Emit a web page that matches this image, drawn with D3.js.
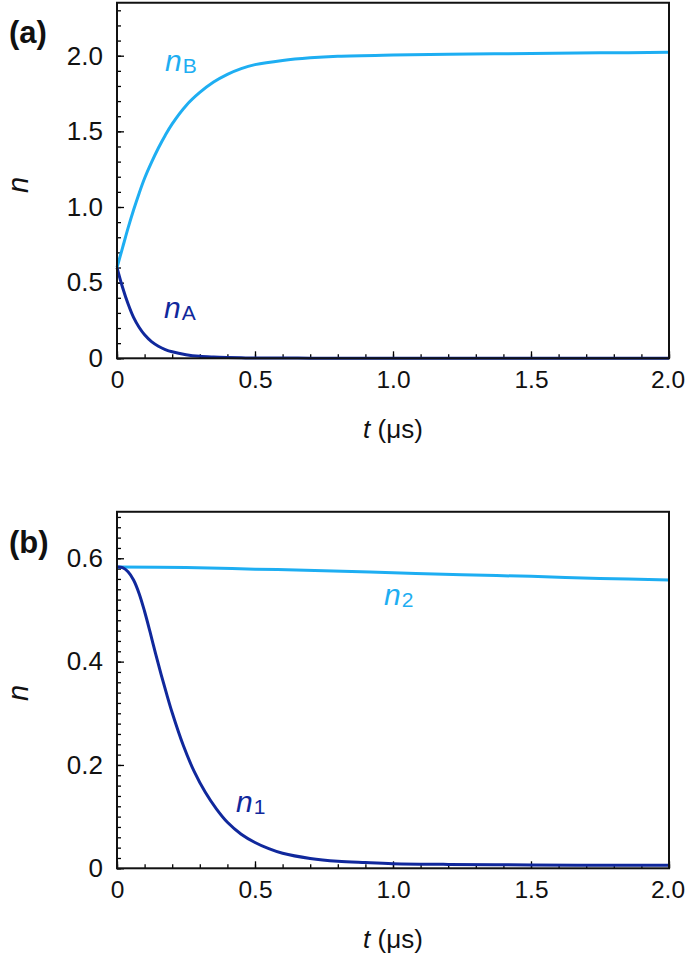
<!DOCTYPE html>
<html>
<head>
<meta charset="utf-8">
<script src="https://cdn.jsdelivr.net/npm/d3@7"></script>
<style>
  body { margin: 0; background: #fff; }
  svg { display: block; font-family: "Liberation Sans", Arial, sans-serif; }
</style>
</head>
<body>
<svg id="chart" width="685" height="955"></svg>
<script>
// panel (a)
const tA = [0, 0.02, 0.04, 0.06, 0.08, 0.1, 0.125, 0.15, 0.175, 0.2, 0.25, 0.3, 0.35, 0.4, 0.45, 0.5, 0.6, 0.7, 0.8, 1.0, 1.2, 1.5, 1.75, 2.0]
const nAvals = [0.60, 0.47, 0.36, 0.27, 0.205, 0.155, 0.11, 0.08, 0.058, 0.043, 0.024, 0.013, 0.008, 0.005, 0.003, 0.002, 0.0015, 0.001, 0.0008, 0.0005, 0.0003, 0.0002, 0.0001, 0]
const nBvals = [0.60, 0.73, 0.86, 0.98, 1.09, 1.19, 1.295, 1.39, 1.475, 1.55, 1.67, 1.757, 1.826, 1.877, 1.915, 1.941, 1.969, 1.986, 1.996, 2.004, 2.009, 2.015, 2.019, 2.022]

// panel (b)
const tB = [0, 0.02, 0.04, 0.06, 0.08, 0.1, 0.12, 0.14, 0.16, 0.18, 0.2, 0.24, 0.28, 0.32, 0.36, 0.4, 0.45, 0.5, 0.55, 0.6, 0.7, 0.8, 0.9, 1.0, 1.2, 1.5, 1.75, 2.0]
const n1vals = [0.583, 0.582, 0.574, 0.558, 0.532, 0.497, 0.457, 0.415, 0.375, 0.337, 0.301, 0.238, 0.187, 0.147, 0.115, 0.089, 0.066, 0.050, 0.038, 0.029, 0.019, 0.0135, 0.011, 0.009, 0.0075, 0.0065, 0.006, 0.006]
const t2 = [0, 0.25, 0.5, 0.75, 1.0, 1.25, 1.5, 1.75, 2.0]
const n2vals = [0.583, 0.582, 0.579, 0.576, 0.572, 0.568, 0.565, 0.561, 0.558]

const xTicks = [0, 0.5, 1.0, 1.5, 2.0]
const yTicksA = [0, 0.5, 1.0, 1.5, 2.0]
const yTicksB = [0, 0.2, 0.4, 0.6]

const light = "#1eaef2"
const dark = "#10289c"

const svg = d3.select("#chart")

const fmt = d => d === 0 ? "0" : d3.format(".1f")(d)

function panel(cfg) {
	const x = d3.scaleLinear().domain([0, 2]).range([117, 669])
	const y = d3.scaleLinear().domain([0, cfg.ymax]).range([cfg.bottom, cfg.bottom - cfg.ymax * cfg.unit])
	const g = svg.append("g")

	// minor ticks
	const xMinor = d3.range(0, 2.0001, 0.1)
	g.append("g")
		.attr("transform", `translate(0,${cfg.bottom})`)
		.call(d3.axisBottom(x).tickValues(xMinor).tickSize(-4).tickFormat(""))
		.call(s => s.select(".domain").remove())
		.selectAll("line").attr("stroke", "#000").attr("stroke-width", 1.3)

	const yMinor = d3.range(0, cfg.ymax + 1e-6, cfg.minor)
	g.append("g")
		.attr("transform", `translate(117,0)`)
		.call(d3.axisLeft(y).tickValues(yMinor).tickSize(-4).tickFormat(""))
		.call(s => s.select(".domain").remove())
		.selectAll("line").attr("stroke", "#000").attr("stroke-width", 1.3)

	// major ticks + labels
	const gx = g.append("g")
		.attr("transform", `translate(0,${cfg.bottom})`)
		.call(d3.axisBottom(x).tickValues(xTicks).tickSize(-7).tickPadding(12).tickFormat(fmt))
	gx.select(".domain").remove()
	gx.selectAll("line").attr("stroke", "#000").attr("stroke-width", 1.3)
	gx.selectAll("text").attr("font-size", 24.5).attr("fill", "#111").attr("dy", "0.72em")
	// keep the last label inside the window
	gx.selectAll("text").filter(d => d === 2).attr("dx", -1.5)

	const gy = g.append("g")
		.attr("transform", `translate(117,0)`)
		.call(d3.axisLeft(y).tickValues(cfg.yTicks).tickSize(-7).tickPadding(14).tickFormat(fmt))
	gy.select(".domain").remove()
	gy.selectAll("line").attr("stroke", "#000").attr("stroke-width", 1.3)
	gy.selectAll("text").attr("font-size", 26).attr("fill", "#111")

	const line = d3.line()
		.x(d => x(d[0]))
		.y(d => y(d[1]))
		.curve(d3.curveCatmullRom.alpha(0.5))

	cfg.series.forEach(s => {
		g.append("path")
			.datum(s.t.map((t, i) => [t, s.v[i]]))
			.attr("fill", "none")
			.attr("stroke", s.color)
			.attr("stroke-width", 3)
			.attr("d", line)
	})

	// frame
	g.append("rect")
		.attr("x", x(0)).attr("y", y(cfg.ymax))
		.attr("width", x(2) - x(0)).attr("height", y(0) - y(cfg.ymax))
		.attr("fill", "none").attr("stroke", "#111").attr("stroke-width", 2)

	// series labels
	cfg.series.forEach(s => {
		const lab = g.append("text")
			.attr("x", s.lx).attr("y", s.ly)
			.attr("fill", s.color)
		lab.append("tspan").attr("font-style", "italic").attr("font-size", 30).text("n")
		lab.append("tspan").attr("font-size", 21).attr("dx", 1).attr("dy", 2).text(s.sub)
	})

	// panel tag
	g.append("text")
		.attr("x", 9).attr("y", cfg.tagY)
		.attr("font-size", 31).attr("font-weight", "bold").attr("fill", "#111")
		.text(cfg.tag)

	// axis titles
	g.append("text")
		.attr("transform", `translate(28,${cfg.ylabY}) rotate(-90)`)
		.attr("text-anchor", "middle")
		.attr("font-size", 29).attr("font-style", "italic").attr("fill", "#111")
		.text("n")

	const xt = g.append("text")
		.attr("x", 393).attr("y", cfg.bottom + 80)
		.attr("text-anchor", "middle")
		.attr("font-size", 26).attr("fill", "#111")
	xt.append("tspan").attr("font-style", "italic").text("t")
	xt.append("tspan").text(" (μs)")
}

panel({
	ymax: 2.35, unit: 151.3, bottom: 358.3, minor: 0.1, yTicks: yTicksA,
	tag: "(a)", tagY: 43, ylabY: 185,
	series: [
		{t: tA, v: nBvals, color: light, sub: "B", lx: 165, ly: 71},
		{t: tA, v: nAvals, color: dark, sub: "A", lx: 164, ly: 318}
	]
})

panel({
	ymax: 0.69, unit: 516.7, bottom: 868.3, minor: 0.02, yTicks: yTicksB,
	tag: "(b)", tagY: 553, ylabY: 693,
	series: [
		{t: t2, v: n2vals, color: light, sub: "2", lx: 384, ly: 605},
		{t: tB, v: n1vals, color: dark, sub: "1", lx: 236, ly: 812}
	]
})
</script>
</body>
</html>
